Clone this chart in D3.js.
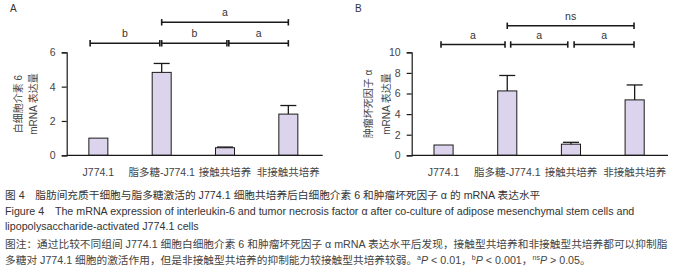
<!DOCTYPE html>
<html>
<head>
<meta charset="utf-8">
<script src="https://cdn.jsdelivr.net/npm/d3@7"></script>
<style>
  body { margin: 0; background: #fff; }
  svg text { font-family: "Liberation Sans", Arial, "Noto Sans CJK SC", sans-serif; }
</style>
</head>
<body>
<script>
// groups on the x axis (same for both panels)
var groups = ["J774.1", "脂多糖-J774.1", "接触共培养", "非接触共培养"];

// panel A: interleukin-6
var il6Mean = [1.0, 4.83, 0.44, 2.4];
var il6Err  = [0, 0.52, 0.04, 0.5];
var il6Ticks = [0, 2, 4, 6];
// significance brackets, positions in group index units
var il6Sig = [
  {from: -0.13, to: 0.97, row: 0, label: "b"},
  {from: 1.0, to: 2.03, row: 0, label: "b"},
  {from: 2.06, to: 3.0, row: 0, label: "a"},
  {from: 1.0, to: 3.0, row: 1, label: "a"}
];

// panel B: tumor necrosis factor alpha
var tnfMean = [1.0, 6.25, 1.08, 5.38];
var tnfErr  = [0, 1.5, 0.18, 1.45];
var tnfTicks = [0, 2, 4, 6, 8, 10];
var tnfSig = [
  {from: -0.04, to: 0.965, row: 0, label: "a"},
  {from: 1.054, to: 1.95, row: 0, label: "a"},
  {from: 2.05, to: 2.99, row: 0, label: "a"},
  {from: 1.0, to: 2.99, row: 1, label: "ns"}
];

var W = 675, H = 280;
var svg = d3.select("body").append("svg")
  .attr("width", W)
  .attr("height", H);

function panel(opt) {
  var g = svg.append("g");

  var x = d3.scaleBand()
    .domain(opt.groups)
    .range([opt.left, opt.right])
    .paddingInner(0.7)
    .paddingOuter(0.35);
  var step = x.step();
  var c0 = x(opt.groups[0]) + x.bandwidth() / 2;
  var xi = function(i) { return c0 + i * step; };

  var y = d3.scaleLinear()
    .domain([0, opt.max])
    .range([155.3, 52.3]);

  // bars
  g.selectAll("rect.bar")
    .data(opt.mean)
    .enter().append("rect")
    .attr("class", "bar")
    .attr("x", function(d, i) { return x(opt.groups[i]); })
    .attr("y", function(d) { return y(d); })
    .attr("width", x.bandwidth())
    .attr("height", function(d) { return y(0) - y(d); })
    .attr("fill", "#dcd4ec")
    .attr("stroke", "#1a1a1a")
    .attr("stroke-width", 1);

  // error bars (upper only)
  opt.mean.forEach(function(m, i) {
    if (!opt.err[i]) return;
    var cx = xi(i);
    g.append("line")
      .attr("x1", cx).attr("x2", cx)
      .attr("y1", y(m)).attr("y2", y(m + opt.err[i]))
      .attr("stroke", "#1a1a1a").attr("stroke-width", 1.3);
    g.append("line")
      .attr("x1", cx - 8).attr("x2", cx + 8)
      .attr("y1", y(m + opt.err[i])).attr("y2", y(m + opt.err[i]))
      .attr("stroke", "#1a1a1a").attr("stroke-width", 1.3);
  });

  // y axis
  var yAxis = d3.axisLeft(y)
    .tickValues(opt.ticks)
    .tickFormat(d3.format("d"))
    .tickSizeOuter(0)
    .tickSize(5)
    .tickPadding(6);
  var ya = g.append("g")
    .attr("transform", "translate(" + opt.left + ",0)")
    .call(yAxis);
  ya.select(".domain").attr("stroke", "#1a1a1a").attr("stroke-width", 1.2);
  ya.selectAll(".tick line").attr("stroke", "#1a1a1a").attr("stroke-width", 1.2);
  ya.selectAll(".tick text")
    .attr("font-size", 10.5)
    .attr("fill", "#444")
    .style("font-family", "'Liberation Sans', Arial, sans-serif");

  // x axis baseline and labels
  g.append("line")
    .attr("x1", opt.left).attr("x2", opt.axisEnd)
    .attr("y1", y(0)).attr("y2", y(0))
    .attr("stroke", "#1a1a1a").attr("stroke-width", 1.2);
  g.selectAll("text.xl")
    .data(opt.groups)
    .enter().append("text")
    .attr("class", "xl")
    .attr("x", function(d) { return x(d) + x.bandwidth() / 2; })
    .attr("y", 176)
    .attr("text-anchor", "middle")
    .attr("font-size", 10.5)
    .attr("fill", "#444")
    .text(function(d) { return d; });

  // y axis title, two rotated lines
  opt.ytitle.forEach(function(t, k) {
    g.append("text")
      .attr("transform", "translate(" + opt.ytitleX[k] + ",104) rotate(-90)")
      .attr("text-anchor", "middle")
      .attr("dy", "0.35em")
      .attr("font-size", 10)
      .attr("fill", "#444")
      .text(t);
  });

  // significance brackets
  var rowY = opt.rowY;
  opt.sig.forEach(function(s) {
    var yy = rowY[s.row];
    var x1 = xi(s.from), x2 = xi(s.to);
    g.append("line")
      .attr("x1", x1).attr("x2", x2).attr("y1", yy).attr("y2", yy)
      .attr("stroke", "#1a1a1a").attr("stroke-width", 1.6);
    [x1, x2].forEach(function(xx) {
      g.append("line")
        .attr("x1", xx).attr("x2", xx).attr("y1", yy - 3.2).attr("y2", yy + 3.2)
        .attr("stroke", "#1a1a1a").attr("stroke-width", 1.6);
    });
    g.append("text")
      .attr("x", (x1 + x2) / 2)
      .attr("y", yy - 6)
      .attr("text-anchor", "middle")
      .attr("font-size", 10.5)
      .attr("fill", "#333")
      .text(s.label);
  });

  // panel letter
  g.append("text")
    .attr("x", opt.letterX).attr("y", 11.5)
    .attr("font-size", 10)
    .attr("fill", "#333")
    .text(opt.letter);
}

panel({
  groups: groups, mean: il6Mean, err: il6Err, ticks: il6Ticks, max: 6,
  sig: il6Sig, left: 66.7, right: 320, axisEnd: 322.7,
  rowY: [43.3, 22.3], letter: "A", letterX: 10,
  ytitle: ["白细胞介素 6", "mRNA 表达量"], ytitleX: [18, 33]
});

panel({
  groups: groups, mean: tnfMean, err: tnfErr, ticks: tnfTicks, max: 10,
  sig: tnfSig, left: 411.7, right: 666.5, axisEnd: 668,
  rowY: [44.5, 25.8], letter: "B", letterX: 355,
  ytitle: ["肿瘤坏死因子 α", "mRNA 表达量"], ytitleX: [368.5, 386]
});

// caption
var capLines = [
  "图 4　脂肪间充质干细胞与脂多糖激活的 J774.1 细胞共培养后白细胞介素 6 和肿瘤坏死因子 α 的 mRNA 表达水平",
  "Figure 4　The mRNA expression of interleukin-6 and tumor necrosis factor α after co-culture of adipose mesenchymal stem cells and",
  "lipopolysaccharide-activated J774.1 cells",
  "图注：通过比较不同组间 J774.1 细胞白细胞介素 6 和肿瘤坏死因子 α mRNA 表达水平后发现，接触型共培养和非接触型共培养都可以抑制脂",
  "多糖对 J774.1 细胞的激活作用，但是非接触型共培养的抑制能力较接触型共培养较弱。"
];
var capY = [198.5, 214.5, 230, 248, 263.5];

var cap = svg.append("g");
capLines.forEach(function(t, i) {
  var txt = cap.append("text")
    .attr("x", 5)
    .attr("y", capY[i])
    .attr("font-size", 10.7)
    .attr("fill", i < 3 ? "#333" : "#444")
    .text(t);
  if (i === 4) {
    var parts = [["a", "P", " < 0.01，"], ["b", "P", " < 0.001，"], ["ns", "P", " > 0.05。"]];
    parts.forEach(function(p) {
      txt.append("tspan").attr("font-size", 7).attr("dy", -3.5).text(p[0]);
      txt.append("tspan").attr("font-style", "italic").attr("dy", 3.5).text(p[1]);
      txt.append("tspan").text(p[2]);
    });
  }
});
</script>
</body>
</html>
